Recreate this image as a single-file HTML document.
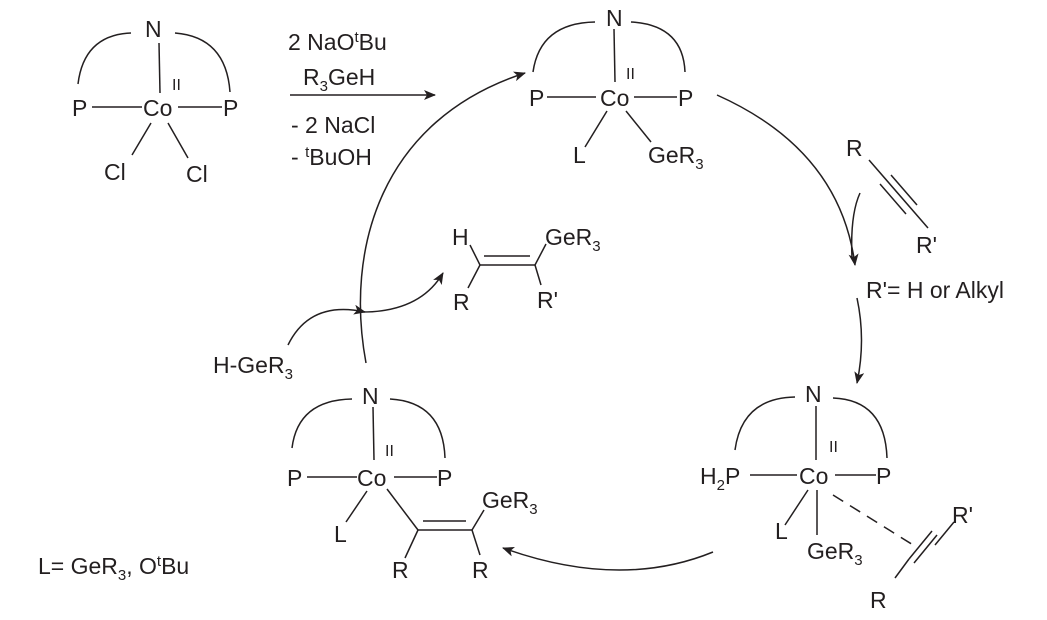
<!DOCTYPE html>
<html><head><style>
html,body{margin:0;padding:0;background:#fff;}
svg{display:block;}
text{font-family:"Liberation Sans",Arial,sans-serif;font-size:23px;fill:#231f20;}
.s{font-size:15px;}
.ii{font-size:16px;}
</style></head><body>
<svg width="1047" height="620" viewBox="0 0 1047 620" xmlns="http://www.w3.org/2000/svg">
<defs>
<marker id="ah" viewBox="0 0 12 10" refX="11" refY="5" markerWidth="12" markerHeight="10" markerUnits="userSpaceOnUse" orient="auto">
<path d="M0,0 L12,5 L0,10 L3,5 Z" fill="#231f20"/>
</marker>
</defs>
<g stroke="#231f20" stroke-width="1.5" fill="none">
<!-- complex 1 -->
<path d="M78,84 Q84,35 131,33"/><path d="M175,33 Q226,37 230,92"/>
<line x1="159" y1="43" x2="160" y2="93"/>
<line x1="92" y1="107" x2="142" y2="107"/><line x1="178" y1="107" x2="222" y2="107"/>
<line x1="151" y1="123" x2="132" y2="155"/><line x1="168" y1="123" x2="188" y2="158"/>
<!-- reagent arrow -->
<line x1="290" y1="95" x2="435" y2="95" marker-end="url(#ah)"/>
<!-- complex 2 (top) -->
<path d="M533,72 Q540,23 595,22"/><path d="M631,22 Q683,25 685,72"/>
<line x1="614" y1="29" x2="615" y2="82"/>
<line x1="547" y1="97" x2="596" y2="97"/><line x1="634" y1="97" x2="677" y2="97"/>
<line x1="607" y1="111" x2="585" y2="147"/><line x1="626" y1="111" x2="651" y2="142"/>
<!-- right arrow -->
<path d="M717,95 Q840,150 855,265" marker-end="url(#ah)"/>
<path d="M860,193 Q850,215 852,258"/>
<path d="M857,298 Q866,340 857,383" marker-end="url(#ah)"/>
<!-- alkyne right -->
<line x1="869" y1="160" x2="928" y2="228"/>
<line x1="880" y1="184" x2="906" y2="214"/><line x1="891" y1="175" x2="917" y2="205"/>
<!-- complex 3 (bottom right) -->
<path d="M735,450 Q742,398 795,397"/><path d="M833,398 Q885,400 887,458"/>
<line x1="816" y1="406" x2="816" y2="460"/>
<line x1="750" y1="475" x2="797" y2="475"/><line x1="835" y1="475" x2="876" y2="475"/>
<line x1="808" y1="490" x2="785" y2="525"/><line x1="817" y1="490" x2="817" y2="535"/>
<line x1="833" y1="495" x2="918" y2="548" stroke-dasharray="12,8"/>
<line x1="954" y1="522" x2="935" y2="545"/>
<line x1="937" y1="535" x2="914" y2="563"/><line x1="932" y1="531" x2="909" y2="559"/>
<line x1="909" y1="559" x2="895" y2="578"/>
<!-- bottom arrow -->
<path d="M713,552 Q620,590 503,548" marker-end="url(#ah)"/>
<!-- complex 4 (bottom left) -->
<path d="M292,448 Q298,400 352,399"/><path d="M390,399 Q443,402 445,458"/>
<line x1="373" y1="407" x2="374" y2="460"/>
<line x1="307" y1="477" x2="357" y2="477"/><line x1="394" y1="477" x2="437" y2="477"/>
<line x1="367" y1="491" x2="346" y2="522"/>
<line x1="387" y1="489" x2="418" y2="530"/>
<line x1="418" y1="530" x2="472" y2="530"/><line x1="423" y1="521" x2="466" y2="521"/>
<line x1="472" y1="530" x2="484" y2="510"/>
<line x1="418" y1="530" x2="405" y2="558"/><line x1="472" y1="530" x2="480" y2="555"/>
<!-- left arrow -->
<path d="M366,363 C345,250 380,120 525,73" marker-end="url(#ah)"/>
<path d="M288,345 Q310,300 365,312" marker-end="url(#ah)"/>
<path d="M362,312 Q420,312 443,273" marker-end="url(#ah)"/>
<!-- product -->
<line x1="470" y1="245" x2="480" y2="265"/>
<line x1="480" y1="265" x2="535" y2="265"/><line x1="484" y1="256" x2="530" y2="256"/>
<line x1="535" y1="265" x2="546" y2="244"/>
<line x1="480" y1="265" x2="468" y2="288"/><line x1="535" y1="265" x2="541" y2="285"/>
</g>
<!-- texts complex 1 -->
<text x="145" y="37">N</text>
<text x="172" y="90" class="ii">II</text>
<text x="72" y="116">P</text>
<text x="143" y="116">Co</text>
<text x="223" y="116">P</text>
<text x="104" y="180">Cl</text>
<text x="186" y="182">Cl</text>
<!-- reagents -->
<text x="288" y="50">2 NaO<tspan class="s" dy="-8">t</tspan><tspan dy="8">Bu</tspan></text>
<text x="303" y="85">R<tspan class="s" dy="6">3</tspan><tspan dy="-6">GeH</tspan></text>
<text x="291" y="133">- 2 NaCl</text>
<text x="291" y="165">- <tspan class="s" dy="-8">t</tspan><tspan dy="8">BuOH</tspan></text>
<!-- complex 2 -->
<text x="606" y="26">N</text>
<text x="626" y="79" class="ii">II</text>
<text x="529" y="106">P</text>
<text x="600" y="106">Co</text>
<text x="678" y="106">P</text>
<text x="573" y="163">L</text>
<text x="648" y="163">GeR<tspan class="s" dy="6">3</tspan></text>
<!-- alkyne right -->
<text x="846" y="156">R</text>
<text x="916" y="253">R'</text>
<text x="866" y="298">R'= H or Alkyl</text>
<!-- complex 3 -->
<text x="805" y="402">N</text>
<text x="829" y="452" class="ii">II</text>
<text x="700" y="484">H<tspan class="s" dy="6">2</tspan><tspan dy="-6">P</tspan></text>
<text x="799" y="484">Co</text>
<text x="876" y="484">P</text>
<text x="775" y="539">L</text>
<text x="807" y="559">GeR<tspan class="s" dy="6">3</tspan></text>
<text x="952" y="523">R'</text>
<text x="870" y="608">R</text>
<!-- complex 4 -->
<text x="362" y="404">N</text>
<text x="385" y="456" class="ii">II</text>
<text x="287" y="486">P</text>
<text x="357" y="486">Co</text>
<text x="437" y="486">P</text>
<text x="334" y="542">L</text>
<text x="482" y="508">GeR<tspan class="s" dy="6">3</tspan></text>
<text x="392" y="578">R</text>
<text x="472" y="578">R</text>
<!-- product -->
<text x="452" y="245">H</text>
<text x="545" y="245">GeR<tspan class="s" dy="6">3</tspan></text>
<text x="453" y="310">R</text>
<text x="537" y="308">R'</text>
<text x="213" y="373">H-GeR<tspan class="s" dy="6">3</tspan></text>
<text x="38" y="574">L= GeR<tspan class="s" dy="6">3</tspan><tspan dy="-6">, O</tspan><tspan class="s" dy="-8">t</tspan><tspan dy="8">Bu</tspan></text>
</svg>
</body></html>
